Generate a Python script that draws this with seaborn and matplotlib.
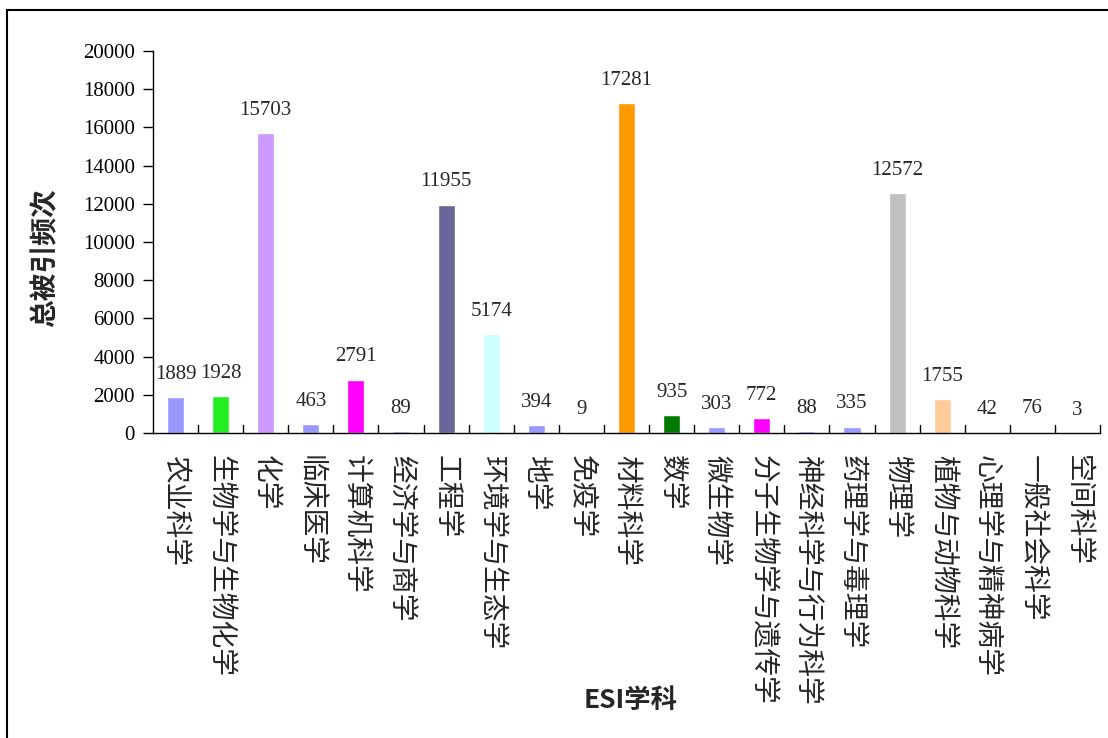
import matplotlib
matplotlib.use("Agg")
import matplotlib.pyplot as plt
import seaborn as sns
import pandas as pd
from matplotlib.lines import Line2D

subjects = ["农业科学", "生物学与生物化学", "化学", "临床医学", "计算机科学", "经济学与商学",
            "工程学", "环境学与生态学", "地学", "免疫学", "材料科学", "数学", "微生物学",
            "分子生物学与遗传学", "神经科学与行为科学", "药理学与毒理学", "物理学",
            "植物与动物科学", "心理学与精神病学", "一般社会科学", "空间科学"]
citations = [1889, 1928, 15703, 463, 2791, 89, 11955, 5174, 394, 9, 17281, 935, 303,
             772, 88, 335, 12572, 1755, 42, 76, 3]
bar_colors = ["#9999FF", "#22EE22", "#CC99FF", "#9999FF", "#FF00FF", "#9999FF",
              "#666699", "#CCFFFF", "#9999FF", "#9999FF", "#FF9900", "#007A00", "#9999FF",
              "#FF00FF", "#9999FF", "#9999FF", "#C0C0C0", "#FFCC99", "#9999FF", "#9999FF",
              "#9999FF"]

sns.set_style("white")
plt.rcParams['font.family'] = ['Noto Sans CJK SC', 'DejaVu Sans']
num_font = ['Liberation Serif', 'DejaVu Serif']

df = pd.DataFrame({"subject": subjects, "count": citations})

fig = plt.figure(figsize=(11.08, 7.38), dpi=100)
ax = fig.add_axes([153 / 1108, (738 - 433) / 738, (1100 - 153) / 1108, (433 - 51) / 738])

sns.barplot(data=df, x="subject", y="count", hue="subject", palette=bar_colors,
            width=0.38, legend=False, ax=ax, saturation=1)

# value labels above the bars
for i, v in enumerate(citations):
    ax.text(i, v + 700, str(v), ha="center", va="bottom", fontsize=15, family=num_font)

ax.set_ylim(0, 20000)
ax.set_xlim(-0.5, len(subjects) - 0.5)
ax.set_yticks(range(0, 20001, 2000))
ax.set_yticklabels([str(t) for t in range(0, 20001, 2000)], family=num_font, fontsize=15)
ax.tick_params(axis="y", direction="out", length=7, width=1, left=True, colors="black", pad=6)
ax.set_xticks(range(len(subjects)))
ax.set_xticklabels(subjects, rotation=-90, fontsize=20, va="top", ha="center")
ax.tick_params(axis="x", length=0, pad=16)

# separator ticks between categories pointing upward
for b in range(1, len(subjects) + 1):
    ax.plot([b - 0.5, b - 0.5], [0, 420], color="black", lw=1, clip_on=False)

for side in ["top", "right"]:
    ax.spines[side].set_visible(False)
for side in ["left", "bottom"]:
    ax.spines[side].set_color("black")
    ax.spines[side].set_linewidth(1)

ax.set_ylabel("总被引频次", fontsize=20, fontweight="bold")
ax.yaxis.set_label_coords(-0.114, 0.458)
ax.yaxis.label.set_verticalalignment("center")
ax.set_xlabel("ESI学科", fontsize=19, fontweight="bold")
ax.xaxis.set_label_coords(0.504, -0.699)
ax.xaxis.label.set_verticalalignment("center")

# outer frame of the chart area
fig.add_artist(Line2D([7 / 1108, 7 / 1108], [0, 1 - 10 / 738], color="black", lw=1.5))
fig.add_artist(Line2D([7 / 1108, 1], [1 - 10 / 738, 1 - 10 / 738], color="black", lw=1.5))

fig.savefig("out.png", dpi=100)
